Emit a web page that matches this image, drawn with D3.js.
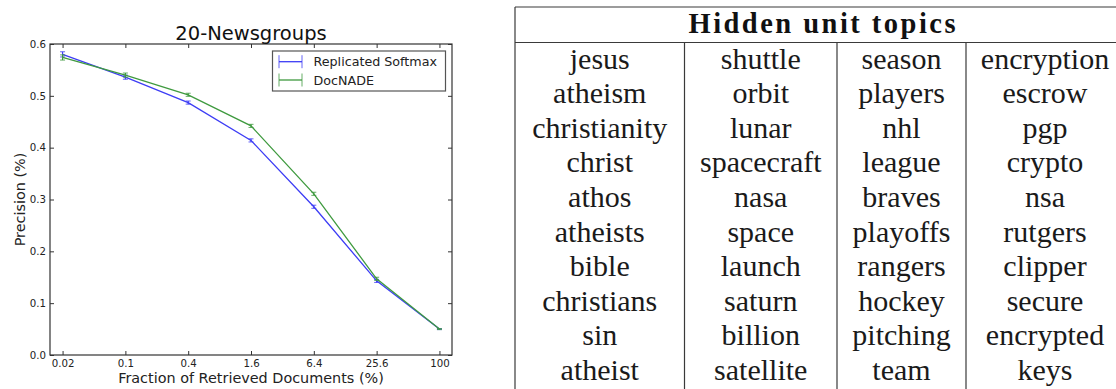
<!DOCTYPE html>
<html>
<head>
<meta charset="utf-8">
<script src="https://cdn.jsdelivr.net/npm/d3@7/dist/d3.min.js"></script>
<style>
  html, body { margin: 0; padding: 0; background: #fff; }
  svg { display: block; }
</style>
</head>
<body>
<svg id="fig" width="1116" height="389"></svg>
<script>
// ---- Precision curve data ----
const fractions = ["0.02", "0.1", "0.4", "1.6", "6.4", "25.6", "100"];
const softmaxPrecision = [0.580, 0.536, 0.487, 0.414, 0.286, 0.143, 0.050];
const softmaxError     = [0.005, 0.004, 0.003, 0.003, 0.003, 0.003, 0.001];
const docnadePrecision = [0.574, 0.540, 0.502, 0.442, 0.311, 0.147, 0.050];
const docnadeError     = [0.005, 0.004, 0.003, 0.003, 0.003, 0.003, 0.001];
const yTicks = [0.0, 0.1, 0.2, 0.3, 0.4, 0.5, 0.6];
const seriesNames = ["Replicated Softmax", "DocNADE"];

// ---- Topic table data ----
const tableTitle = "Hidden unit topics";
const topicReligion = ["jesus", "atheism", "christianity", "christ", "athos", "atheists", "bible", "christians", "sin", "atheist"];
const topicSpace    = ["shuttle", "orbit", "lunar", "spacecraft", "nasa", "space", "launch", "saturn", "billion", "satellite"];
const topicHockey   = ["season", "players", "nhl", "league", "braves", "playoffs", "rangers", "hockey", "pitching", "team"];
const topicCrypto   = ["encryption", "escrow", "pgp", "crypto", "nsa", "rutgers", "clipper", "secure", "encrypted", "keys"];

const svg = d3.select("#fig");
const sans = "'DejaVu Sans', sans-serif";
const serif = "'Liberation Serif', 'Times New Roman', serif";

// ================= Line chart =================
const plot = { left: 50, top: 44, right: 452, bottom: 355 };
const colors = ["#3d3df5", "#3f9a3f"];

const x = d3.scalePoint().domain(fractions).range([plot.left, plot.right]).padding(0.2);
const y = d3.scaleLinear().domain([0, 0.6]).range([plot.bottom, plot.top]);

const chart = svg.append("g");

// axes with inward ticks on all four sides
const tickLen = 4;
const axB = chart.append("g").attr("transform", `translate(0,${plot.bottom})`)
  .call(d3.axisBottom(x).tickSize(-tickLen).tickPadding(4.5));
const axT = chart.append("g").attr("transform", `translate(0,${plot.top})`)
  .call(d3.axisTop(x).tickSize(-tickLen).tickFormat(""));
const axL = chart.append("g").attr("transform", `translate(${plot.left},0)`)
  .call(d3.axisLeft(y).tickValues(yTicks).tickFormat(d3.format(".1f")).tickSize(-tickLen).tickPadding(4));
const axR = chart.append("g").attr("transform", `translate(${plot.right},0)`)
  .call(d3.axisRight(y).tickValues(yTicks).tickSize(-tickLen).tickFormat(""));

[axB, axT, axL, axR].forEach(a => {
  a.select(".domain").remove();
  a.selectAll(".tick line").attr("stroke", "#333").attr("stroke-width", 1);
  a.selectAll(".tick text").attr("fill", "#222").style("font-family", sans).style("font-size", "10.2px");
});

// frame
chart.append("rect")
  .attr("x", plot.left).attr("y", plot.top)
  .attr("width", plot.right - plot.left).attr("height", plot.bottom - plot.top)
  .attr("fill", "none").attr("stroke", "#333").attr("stroke-width", 1.2);

// series
const series = [
  { name: seriesNames[0], values: softmaxPrecision, errors: softmaxError, color: colors[0] },
  { name: seriesNames[1], values: docnadePrecision, errors: docnadeError, color: colors[1] }
];

const line = d3.line().x((d, i) => x(fractions[i])).y(d => y(d));

series.forEach(s => {
  const g = chart.append("g");
  g.append("path").datum(s.values)
    .attr("d", line).attr("fill", "none")
    .attr("stroke", s.color).attr("stroke-width", 1.3);
  const bars = g.selectAll(".err").data(s.values).join("g").attr("class", "err");
  bars.append("line")
    .attr("x1", (d, i) => x(fractions[i])).attr("x2", (d, i) => x(fractions[i]))
    .attr("y1", (d, i) => y(d - s.errors[i])).attr("y2", (d, i) => y(d + s.errors[i]))
    .attr("stroke", s.color).attr("stroke-width", 1.2);
  [-1, 1].forEach(sign => {
    bars.append("line")
      .attr("x1", (d, i) => x(fractions[i]) - 2.5).attr("x2", (d, i) => x(fractions[i]) + 2.5)
      .attr("y1", (d, i) => y(d + sign * s.errors[i])).attr("y2", (d, i) => y(d + sign * s.errors[i]))
      .attr("stroke", s.color).attr("stroke-width", 1).attr("stroke-opacity", 0.8);
  });
});

// title and axis labels
chart.append("text")
  .attr("x", (plot.left + plot.right) / 2).attr("y", 39.5)
  .attr("text-anchor", "middle").attr("fill", "#111")
  .style("font-family", sans).style("font-size", "19.5px")
  .text("20-Newsgroups");

chart.append("text")
  .attr("x", (plot.left + plot.right) / 2).attr("y", 383)
  .attr("text-anchor", "middle").attr("fill", "#222")
  .style("font-family", sans).style("font-size", "14.4px")
  .text("Fraction of Retrieved Documents (%)");

chart.append("text")
  .attr("transform", `translate(24.5,${(plot.top + plot.bottom) / 2}) rotate(-90)`)
  .attr("text-anchor", "middle").attr("fill", "#222")
  .style("font-family", sans).style("font-size", "14.4px")
  .text("Precision (%)");

// legend
const legend = chart.append("g");
legend.append("rect")
  .attr("x", 272.5).attr("y", 51).attr("width", 173).attr("height", 40)
  .attr("fill", "#fff").attr("stroke", "#555").attr("stroke-width", 1.2);
const legendRow = d3.scalePoint().domain(seriesNames).range([61.7, 80]);
series.forEach(s => {
  const cy = legendRow(s.name);
  const lg = legend.append("g").attr("stroke", s.color);
  lg.append("line").attr("x1", 279).attr("x2", 302).attr("y1", cy).attr("y2", cy).attr("stroke-width", 1.3);
  lg.append("line").attr("x1", 279).attr("x2", 279).attr("y1", cy - 6.5).attr("y2", cy + 6.5).attr("stroke-width", 1).attr("stroke-opacity", 0.8);
  lg.append("line").attr("x1", 302).attr("x2", 302).attr("y1", cy - 6.5).attr("y2", cy + 6.5).attr("stroke-width", 1).attr("stroke-opacity", 0.8);
  legend.append("text")
    .attr("x", 313.5).attr("y", cy).attr("dy", "0.36em")
    .attr("fill", "#222")
    .style("font-family", sans).style("font-size", "12.7px")
    .text(s.name);
});

// ================= Topic table =================
const columns = [topicReligion, topicSpace, topicHockey, topicCrypto];
const colEdges = [515, 684.5, 837, 966, 1124];
const table = svg.append("g");
const rule = "#3a3a3a";

table.append("line").attr("x1", colEdges[0]).attr("x2", 1116).attr("y1", 7).attr("y2", 7)
  .attr("stroke", rule).attr("stroke-width", 1.2);
table.append("line").attr("x1", colEdges[0]).attr("x2", 1116).attr("y1", 42.5).attr("y2", 42.5)
  .attr("stroke", rule).attr("stroke-width", 1.2);
table.append("line").attr("x1", colEdges[0]).attr("x2", colEdges[0]).attr("y1", 7).attr("y2", 389)
  .attr("stroke", rule).attr("stroke-width", 1.2);
table.selectAll(".sep").data(colEdges.slice(1, 4)).join("line").attr("class", "sep")
  .attr("x1", d => d).attr("x2", d => d).attr("y1", 42.5).attr("y2", 389)
  .attr("stroke", rule).attr("stroke-width", 1.2);

table.append("text")
  .attr("x", 822).attr("y", 33)
  .attr("text-anchor", "middle").attr("fill", "#111")
  .attr("textLength", 267).attr("lengthAdjust", "spacing")
  .style("font-family", serif).style("font-weight", "bold").style("font-size", "28.5px")
  .text(tableTitle);

const rowY = d3.scaleLinear().domain([0, 9]).range([68.5, 380]);
columns.forEach((words, c) => {
  const cx = (colEdges[c] + colEdges[c + 1]) / 2;
  table.selectAll(`.w${c}`).data(words).join("text").attr("class", `w${c}`)
    .attr("x", cx).attr("y", (d, i) => rowY(i))
    .attr("text-anchor", "middle").attr("fill", "#1a1a1a")
    .style("font-family", serif).style("font-size", "30px")
    .text(d => d);
});
</script>
</body>
</html>
